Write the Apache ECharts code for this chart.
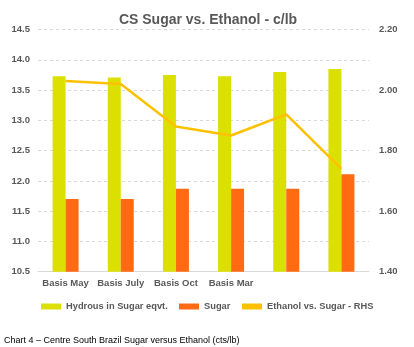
<!DOCTYPE html>
<html>
<head>
<meta charset="utf-8">
<script src="https://cdn.jsdelivr.net/npm/echarts@6/dist/echarts.min.js"></script>
<style>
  html, body { margin: 0; padding: 0; background: #fff; }
  #chart { width: 414px; height: 347px; }
</style>
</head>
<body>
<div id="chart"></div>
<script>
// Categories (last two contracts are unlabelled on the axis)
const categories = ['Basis May', 'Basis July', 'Basis Oct', 'Basis Mar', '', ''];
// Left axis, c/lb
const hydrous = [13.73, 13.71, 13.75, 13.73, 13.80, 13.85];
const sugar = [11.70, 11.70, 11.87, 11.87, 11.87, 12.11];
// Right axis ratio
const ethanolVsSugar = [2.03, 2.02, 1.88, 1.85, 1.92, 1.74];

const seriesNames = ['Hydrous in Sugar eqvt.', 'Sugar', 'Ethanol vs. Sugar - RHS'];
const colors = ['#dce000', '#ff6a13', '#ffc000'];

const chart = echarts.init(document.getElementById('chart'));
const grey = '#595959';
const fontFamily = 'Liberation Sans, Arial, sans-serif';
const labelFont = { color: grey, fontWeight: 'bold', fontSize: 9.5, fontFamily: fontFamily };

// one legend block per entry so each can sit at its own x position
const legendLefts = [41, 179, 242];
const legends = seriesNames.map((name, i) => ({
  top: 302, left: legendLefts[i], padding: 0,
  itemWidth: 20, itemHeight: 6,
  textStyle: Object.assign({}, labelFont, { fontSize: 9.3 }),
  data: [{ name: name, icon: 'rect', itemStyle: { color: colors[i] } }]
}));

chart.setOption({
  animation: false,
  color: colors,
  title: [{
    text: 'CS Sugar vs. Ethanol - c/lb',
    left: 203, top: 8, textAlign: 'center',
    textStyle: { color: grey, fontSize: 14, fontWeight: 'bold', fontFamily: fontFamily }
  }, {
    text: 'Chart 4 \u2013 Centre South Brazil Sugar versus Ethanol (cts/lb)',
    left: -1, top: 331,
    textStyle: { color: '#000', fontSize: 9, fontWeight: 'normal', fontFamily: fontFamily }
  }],
  grid: { left: 38, right: 45, top: 29.6, bottom: 75.3 },
  legend: legends,
  xAxis: {
    type: 'category', data: categories,
    axisTick: { show: false },
    axisLine: { lineStyle: { color: '#d9d9d9' } },
    axisLabel: Object.assign({}, labelFont, { margin: 7, interval: 0 })
  },
  yAxis: [{
    type: 'value', min: 10.5, max: 14.5, interval: 0.5,
    axisLabel: Object.assign({}, labelFont, { formatter: v => v.toFixed(1), margin: 8 }),
    splitLine: { lineStyle: { color: '#d9d9d9', type: [3, 3] } },
    axisLine: { show: false }, axisTick: { show: false }
  }, {
    type: 'value', min: 1.4, max: 2.2, interval: 0.2,
    axisLabel: Object.assign({}, labelFont, { formatter: v => v.toFixed(2), margin: 10 }),
    splitLine: { show: false },
    axisLine: { show: false }, axisTick: { show: false }
  }],
  series: [{
    name: seriesNames[0], type: 'bar', data: hydrous,
    barWidth: 13, barGap: '0%',
    itemStyle: { color: colors[0] }
  }, {
    name: seriesNames[1], type: 'bar', data: sugar,
    barWidth: 13,
    itemStyle: { color: colors[1] }
  }, {
    name: seriesNames[2], type: 'line', yAxisIndex: 1, data: ethanolVsSugar,
    symbol: 'none',
    lineStyle: { color: colors[2], width: 2.5 },
    itemStyle: { color: colors[2] }
  }]
});
</script>
</body>
</html>
